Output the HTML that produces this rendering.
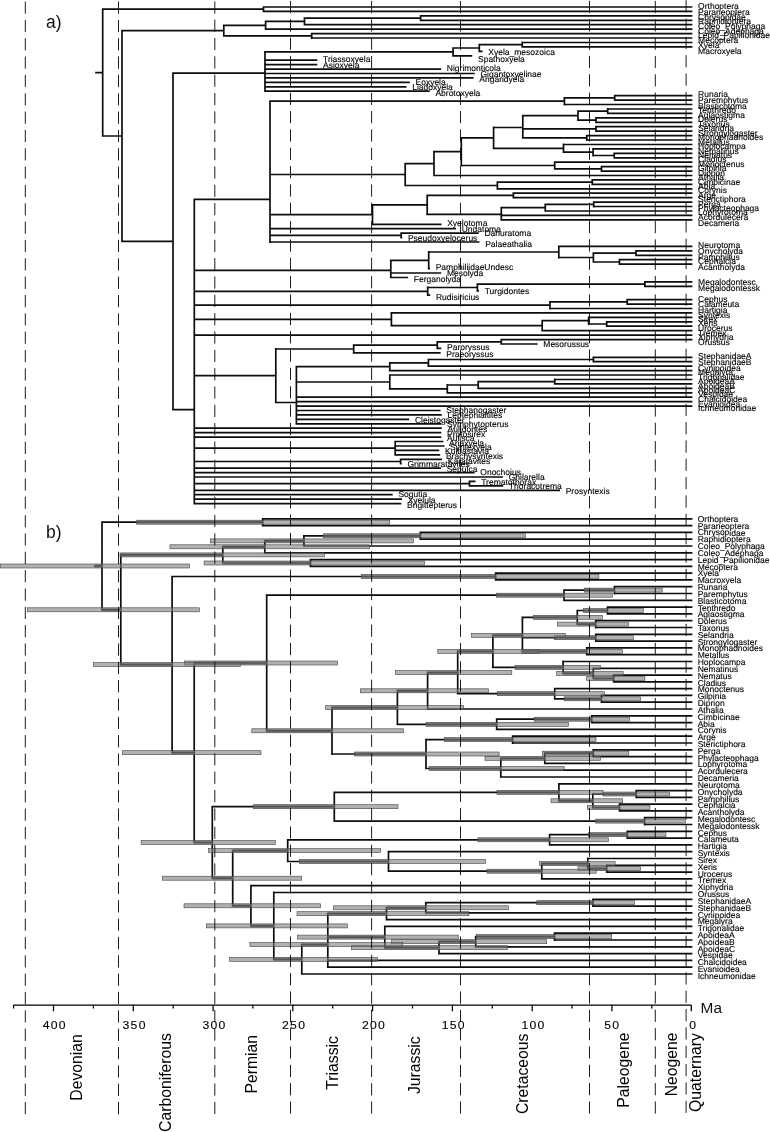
<!DOCTYPE html>
<html><head><meta charset="utf-8"><title>Phylogeny</title>
<style>html,body{margin:0;padding:0;background:#fff}body{width:770px;height:1132px;position:relative;overflow:hidden;font-family:"Liberation Sans",sans-serif}</style></head>
<body>
<svg width="770" height="1132" viewBox="0 0 770 1132" style="position:absolute;left:0;top:0;filter:grayscale(1)">
<rect width="770" height="1132" fill="#fff"/>
<path d="M101.9 9.2H263.5M262.6 7.0H692.4M262.6 11.4H692.4M101.9 136.0H122.0M121.2 30.6H223.8M223.0 25.3H265.6M264.8 21.4H304.5M303.6 18.1H420.6M419.8 15.9H692.4M419.8 20.3H692.4M303.6 24.7H692.4M264.8 29.2H692.4M223.0 35.8H311.7M310.8 33.6H692.4M310.8 38.0H692.4M121.2 241.4H173.0M172.2 73.1H265.0M264.1 51.9H453.1M452.2 48.0H479.3M478.4 44.7H522.2M521.4 42.5H692.4M521.4 46.9H692.4M478.4 51.3H482.6M452.2 55.8H472.3M264.1 60.2H317.3M264.1 64.6H317.3M264.1 69.1H441.1M264.1 73.5H474.8M264.1 77.9H473.6M264.1 82.4H409.8M264.1 86.8H406.5M264.1 91.2H429.7M172.2 409.7H194.3M193.5 199.4H270.0M269.1 101.2H564.4M563.5 97.9H614.7M613.9 95.7H692.4M613.9 100.1H692.4M563.5 104.5H692.4M269.1 174.5H405.2M404.3 163.6H434.0M433.1 151.7H461.3M460.4 137.9H493.6M492.8 127.5H522.8M521.9 115.6H578.0M577.1 111.2H607.7M606.9 109.0H692.4M606.9 113.4H692.4M577.1 120.1H596.0M595.1 117.9H692.4M595.1 122.3H692.4M521.9 128.9H596.0M595.1 126.7H692.4M595.1 131.2H692.4M521.9 137.8H586.8M585.9 135.6H692.4M585.9 140.0H692.4M492.8 148.3H563.5M562.6 144.5H692.4M562.6 152.2H593.1M592.2 148.9H692.4M592.2 155.5H614.2M613.4 153.3H692.4M613.4 157.8H692.4M460.4 165.5H554.7M553.9 162.2H692.4M553.9 168.8H601.5M600.6 166.6H692.4M600.6 171.1H692.4M433.1 175.5H692.4M404.3 185.5H497.4M496.5 182.1H592.3M591.4 179.9H692.4M591.4 184.4H692.4M496.5 188.8H692.4M269.1 214.6H372.5M371.6 204.9H427.2M426.3 195.4H513.4M512.5 193.2H692.4M512.5 197.7H692.4M426.3 214.3H501.3M500.4 207.6H545.3M544.4 204.3H593.7M592.9 202.1H692.4M592.9 206.5H692.4M544.4 211.0H692.4M500.4 215.4H692.4M500.4 219.8H692.4M371.6 224.3H441.5M269.1 228.7H456.0M269.1 235.4H401.2M400.3 233.1H478.7M400.3 237.6H402.2M269.1 242.0H479.5M193.5 270.3H390.8M389.9 260.3H428.7M427.8 252.0H558.8M557.9 246.4H692.4M557.9 257.5H593.4M592.5 253.1H636.0M635.1 250.9H692.4M635.1 255.3H692.4M592.5 262.0H619.5M618.6 259.7H692.4M618.6 264.2H692.4M427.8 268.6H430.0M389.9 273.0H441.2M389.9 277.5H408.1M193.5 291.3H427.7M426.8 287.5H477.4M476.5 284.1H644.9M644.0 281.9H692.4M644.0 286.3H692.4M476.5 290.8H479.0M426.8 295.2H430.2M193.5 305.2H550.0M549.1 301.9H627.2M626.4 299.6H692.4M626.4 304.1H692.4M549.1 308.5H692.4M193.5 319.3H391.4M390.5 312.9H692.4M390.5 325.7H542.2M541.4 320.7H588.6M587.8 317.4H692.4M587.8 324.0H606.7M605.9 321.8H692.4M605.9 326.2H692.4M541.4 330.7H692.4M193.5 335.1H692.4M193.5 375.7H275.8M274.9 349.0H353.7M352.8 345.1H437.3M436.4 341.8H501.3M500.4 339.6H692.4M500.4 344.0H537.6M436.4 348.4H441.3M352.8 352.9H440.6M274.9 402.5H296.4M295.5 366.7H389.8M388.9 362.8H428.4M427.5 359.5H593.4M592.5 357.3H692.4M592.5 361.7H692.4M427.5 366.2H692.4M388.9 370.6H692.4M295.5 382.0H389.8M388.9 375.0H692.4M388.9 388.9H447.3M446.4 385.0H478.2M477.3 381.7H554.8M553.9 379.5H692.4M553.9 383.9H692.4M477.3 388.3H692.4M446.4 392.8H692.4M295.5 397.2H692.4M295.5 401.6H692.4M295.5 406.1H692.4M295.5 410.5H440.6M295.5 414.9H441.8M295.5 419.4H409.2M295.5 423.8H441.4M193.5 428.2H441.8M193.5 432.7H441.3M193.5 437.1H441.3M193.5 448.2H395.2M394.3 441.5H443.4M394.3 446.0H444.4M394.3 450.4H439.3M394.3 454.8H440.2M193.5 461.5H400.6M399.8 459.3H442.1M399.8 463.7H401.8M193.5 468.1H441.0M193.5 472.6H474.6M193.5 477.0H503.0M193.5 483.7H469.5M468.6 481.4H475.5M468.6 485.9H503.2M193.5 490.3H560.0M193.5 494.7H392.7M193.5 499.2H402.0M193.5 503.6H401.3M95.2 72.6H102.7M101.2 522.2H262.7M261.8 518.8H692.4M261.8 525.6H692.4M101.2 609.8H120.8M120.0 554.9H222.8M222.0 546.8H264.8M263.9 540.9H303.9M303.0 535.8H420.4M419.5 532.4H692.4M419.5 539.2H692.4M303.0 546.0H692.4M263.9 552.8H692.4M222.0 563.0H310.5M309.6 559.6H692.4M309.6 566.4H692.4M120.0 664.6H172.1M171.2 576.5H495.6M494.8 573.2H692.4M494.8 579.9H692.4M171.2 752.7H194.2M193.3 663.0H266.7M265.8 595.2H564.0M563.1 590.1H614.5M613.6 586.7H692.4M613.6 593.5H692.4M563.1 600.3H692.4M265.8 730.8H332.0M331.1 707.6H397.4M396.5 690.8H427.6M426.8 672.6H457.7M456.8 651.4H492.9M492.0 635.4H522.4M521.5 617.3H577.3M576.4 610.5H607.5M606.6 607.1H692.4M606.6 613.9H692.4M576.4 624.1H595.7M594.9 620.7H692.4M594.9 627.5H692.4M521.5 637.7H595.8M594.9 634.3H692.4M594.9 641.1H692.4M521.5 651.3H586.7M585.9 647.9H692.4M585.9 654.7H692.4M492.0 667.4H563.1M562.2 661.5H692.4M562.2 673.4H593.3M592.4 668.3H692.4M592.4 678.5H613.6M612.8 675.1H692.4M612.8 681.9H692.4M456.8 693.7H554.7M553.9 688.6H692.4M553.9 698.8H601.5M600.6 695.4H692.4M600.6 702.2H692.4M426.8 709.0H692.4M396.5 724.3H496.7M495.8 719.2H591.7M590.9 715.8H692.4M590.9 722.6H692.4M495.8 729.4H692.4M331.1 754.0H426.0M425.1 739.6H512.6M511.8 736.2H692.4M511.8 743.0H692.4M425.1 768.5H500.8M499.9 758.3H544.8M543.9 753.2H593.3M592.4 749.8H692.4M592.4 756.6H692.4M543.9 763.4H692.4M499.9 770.2H692.4M499.9 777.0H692.4M193.3 842.5H212.3M211.5 806.7H334.3M333.4 792.3H558.9M558.0 783.8H692.4M558.0 800.8H592.8M591.9 794.0H636.2M635.4 790.6H692.4M635.4 797.4H692.4M591.9 807.5H619.5M618.6 804.1H692.4M618.6 810.9H692.4M333.4 821.1H644.6M643.8 817.7H692.4M643.8 824.5H692.4M211.5 878.2H232.7M231.8 850.6H287.7M286.8 839.8H549.6M548.8 834.7H627.3M626.4 831.3H692.4M626.4 838.1H692.4M548.8 844.9H692.4M286.8 861.5H388.5M387.6 851.7H692.4M387.6 871.2H541.8M540.9 863.6H587.8M586.9 858.5H692.4M586.9 868.7H606.7M605.9 865.3H692.4M605.9 872.1H692.4M540.9 878.9H692.4M231.8 905.8H250.9M250.1 885.7H692.4M250.1 925.9H273.8M272.9 892.5H692.4M272.9 959.3H301.8M300.9 944.6H327.8M326.9 913.7H386.5M385.6 907.8H425.8M424.9 902.7H593.0M592.1 899.3H692.4M592.1 906.1H692.4M424.9 912.9H692.4M385.6 919.6H692.4M326.9 937.1H384.8M383.9 926.4H692.4M383.9 947.7H439.0M438.1 941.7H475.7M474.8 936.6H554.5M553.6 933.2H692.4M553.6 940.0H692.4M474.8 946.8H692.4M438.1 953.6H692.4M326.9 960.4H692.4M326.9 967.2H692.4M300.9 974.0H692.4M94.0 566.0H102.0M102.7 8.4V136.8M263.5 6.2V12.3M122.0 29.7V242.2M223.8 24.4V36.7M265.6 20.6V30.0M304.5 17.2V25.6M420.6 15.0V21.2M311.7 32.8V38.9M173.0 72.2V410.5M265.0 51.0V92.1M453.1 47.2V56.6M479.3 43.8V52.2M522.2 41.6V47.8M194.3 198.5V504.5M270.0 100.4V242.9M564.4 97.0V105.4M614.7 94.8V101.0M405.2 162.7V186.3M434.0 150.9V176.3M461.3 137.0V166.4M493.6 126.6V149.2M522.8 114.8V138.7M578.0 110.3V120.9M607.7 108.1V114.3M596.0 117.0V123.1M596.0 125.9V132.0M586.8 134.7V140.9M563.5 143.6V153.1M593.1 148.0V156.4M614.2 152.5V158.6M554.7 161.3V169.7M601.5 165.8V171.9M497.4 181.3V189.6M592.3 179.1V185.2M372.5 204.0V225.1M427.2 194.6V215.1M513.4 192.4V198.5M501.3 206.8V220.7M545.3 203.5V211.8M593.7 201.2V207.4M401.2 232.3V238.4M390.8 259.4V278.3M428.7 251.1V269.5M558.8 245.6V258.4M593.4 252.2V262.8M636.0 250.0V256.2M619.5 258.9V265.0M427.7 286.6V296.1M477.4 283.3V291.6M644.9 281.1V287.2M550.0 301.0V309.4M627.2 298.8V304.9M391.4 312.1V326.5M542.2 319.9V331.5M588.6 316.5V324.9M606.7 321.0V327.1M275.8 348.1V403.3M353.7 344.2V353.7M437.3 340.9V349.3M501.3 338.7V344.8M296.4 365.9V424.6M389.8 362.0V371.4M428.4 358.7V367.0M593.4 356.4V362.6M389.8 374.2V389.7M447.3 384.1V393.6M478.2 380.8V389.2M554.8 378.6V384.7M395.2 440.7V455.7M400.6 458.4V464.6M469.5 480.6V486.7M102.0 521.3V610.6M262.7 517.9V526.4M120.8 554.0V665.5M222.8 546.0V563.8M264.8 540.0V553.6M303.9 534.9V546.8M420.4 531.5V540.0M310.5 558.7V567.2M172.1 575.7V753.6M495.6 572.3V580.8M194.2 662.2V843.3M266.7 594.4V731.7M564.0 589.3V601.2M614.5 585.9V594.4M332.0 706.7V754.9M397.4 690.0V725.2M427.6 671.7V709.9M457.7 650.6V694.6M492.9 634.6V668.3M522.4 616.5V652.1M577.3 609.7V625.0M607.5 606.3V614.8M595.7 619.9V628.4M595.8 633.4V641.9M586.7 647.0V655.5M563.1 660.6V674.2M593.3 667.4V679.3M613.6 674.2V682.7M554.7 687.8V699.7M601.5 694.6V703.1M496.7 718.4V730.3M591.7 715.0V723.5M426.0 738.8V769.3M512.6 735.4V743.9M500.8 757.4V777.8M544.8 752.3V764.2M593.3 748.9V757.4M212.3 805.8V879.1M334.3 791.4V822.0M558.9 782.9V801.6M592.8 793.1V808.4M636.2 789.7V798.2M619.5 803.3V811.8M644.6 816.9V825.4M232.7 849.8V906.6M287.7 839.0V862.3M549.6 833.9V845.8M627.3 830.5V839.0M388.5 850.9V872.1M541.8 862.7V879.7M587.8 857.6V869.5M606.7 864.4V872.9M250.9 884.8V926.7M273.8 891.6V960.1M301.8 943.7V974.8M327.8 912.9V968.1M386.5 906.9V920.5M425.8 901.8V913.7M593.0 898.4V906.9M384.8 925.6V948.5M439.0 940.9V954.5M475.7 935.8V947.7M554.5 932.4V940.9" stroke="#0d0d0d" stroke-width="1.7" fill="none"/>
<g fill="rgba(125,125,125,0.6)" stroke="#444" stroke-width="0.6"><rect x="136.7" y="520.2" width="253.1" height="4.0"/><rect x="323.4" y="533.8" width="201.9" height="4.0"/><rect x="210.4" y="538.9" width="203.1" height="4.0"/><rect x="170.0" y="544.8" width="199.5" height="4.0"/><rect x="204.1" y="561.0" width="220.4" height="4.0"/><rect x="120.0" y="552.9" width="204.6" height="4.0"/><rect x="361.6" y="574.5" width="237.3" height="4.0"/><rect x="584.2" y="588.1" width="78.0" height="4.0"/><rect x="496.4" y="593.2" width="116.0" height="4.0"/><rect x="583.6" y="608.5" width="59.7" height="4.0"/><rect x="557.6" y="622.1" width="70.9" height="4.0"/><rect x="533.3" y="615.3" width="69.1" height="4.0"/><rect x="554.5" y="635.7" width="78.8" height="4.0"/><rect x="521.8" y="649.3" width="100.6" height="4.0"/><rect x="471.5" y="633.4" width="93.8" height="4.0"/><rect x="586.7" y="676.5" width="58.2" height="4.0"/><rect x="556.6" y="671.4" width="66.5" height="4.0"/><rect x="515.1" y="665.4" width="85.3" height="4.0"/><rect x="437.8" y="649.4" width="101.3" height="4.0"/><rect x="564.2" y="696.8" width="76.3" height="4.0"/><rect x="497.2" y="691.7" width="107.3" height="4.0"/><rect x="395.5" y="670.6" width="116.3" height="4.0"/><rect x="360.4" y="688.8" width="128.0" height="4.0"/><rect x="534.1" y="717.2" width="95.4" height="4.0"/><rect x="426.1" y="722.3" width="142.2" height="4.0"/><rect x="325.7" y="705.6" width="137.8" height="4.0"/><rect x="444.3" y="737.6" width="151.7" height="4.0"/><rect x="542.3" y="751.2" width="86.5" height="4.0"/><rect x="485.0" y="756.3" width="115.6" height="4.0"/><rect x="429.1" y="766.5" width="135.0" height="4.0"/><rect x="354.3" y="752.0" width="144.8" height="4.0"/><rect x="251.8" y="728.8" width="151.6" height="4.0"/><rect x="184.4" y="661.0" width="153.2" height="4.0"/><rect x="602.9" y="792.0" width="66.7" height="4.0"/><rect x="587.4" y="805.5" width="62.5" height="4.0"/><rect x="551.0" y="798.8" width="71.7" height="4.0"/><rect x="497.0" y="790.3" width="106.0" height="4.0"/><rect x="595.7" y="819.1" width="89.6" height="4.0"/><rect x="253.5" y="804.7" width="144.5" height="4.0"/><rect x="588.5" y="832.7" width="77.4" height="4.0"/><rect x="477.9" y="837.8" width="130.4" height="4.0"/><rect x="578.0" y="866.7" width="62.6" height="4.0"/><rect x="539.6" y="861.6" width="75.5" height="4.0"/><rect x="487.0" y="869.2" width="109.2" height="4.0"/><rect x="299.5" y="859.5" width="186.1" height="4.0"/><rect x="208.5" y="848.6" width="172.1" height="4.0"/><rect x="536.8" y="900.7" width="97.7" height="4.0"/><rect x="333.5" y="905.8" width="174.8" height="4.0"/><rect x="297.0" y="911.7" width="171.9" height="4.0"/><rect x="476.5" y="934.6" width="135.2" height="4.0"/><rect x="391.6" y="939.7" width="155.1" height="4.0"/><rect x="351.5" y="945.7" width="155.8" height="4.0"/><rect x="297.5" y="935.1" width="160.9" height="4.0"/><rect x="249.9" y="942.6" width="152.9" height="4.0"/><rect x="229.7" y="957.3" width="147.6" height="4.0"/><rect x="206.5" y="923.9" width="140.9" height="4.0"/><rect x="184.0" y="903.8" width="136.5" height="4.0"/><rect x="162.3" y="876.2" width="139.4" height="4.0"/><rect x="141.1" y="840.5" width="134.3" height="4.0"/><rect x="122.5" y="750.7" width="138.5" height="4.0"/><rect x="93.5" y="662.6" width="147.0" height="4.0"/><rect x="27.4" y="607.8" width="172.0" height="4.0"/><rect x="0.5" y="564.0" width="189.0" height="4.0"/></g>
<g fill="#5a5a5a" fill-opacity="0.5"><rect x="136.7" y="520.3" width="126.0" height="3.8"/><rect x="323.4" y="533.9" width="97.0" height="3.8"/><rect x="264.8" y="539.0" width="39.1" height="3.8"/><rect x="222.8" y="544.9" width="42.0" height="3.8"/><rect x="222.8" y="561.1" width="87.7" height="3.8"/><rect x="120.8" y="553.0" width="102.0" height="3.8"/><rect x="361.6" y="574.6" width="134.0" height="3.8"/><rect x="584.2" y="588.2" width="30.3" height="3.8"/><rect x="496.4" y="593.3" width="67.6" height="3.8"/><rect x="583.6" y="608.6" width="23.9" height="3.8"/><rect x="577.3" y="622.2" width="18.4" height="3.8"/><rect x="533.3" y="615.4" width="44.0" height="3.8"/><rect x="554.5" y="635.8" width="41.3" height="3.8"/><rect x="522.4" y="649.4" width="64.3" height="3.8"/><rect x="492.9" y="633.5" width="29.5" height="3.8"/><rect x="593.3" y="676.6" width="20.3" height="3.8"/><rect x="563.1" y="671.5" width="30.2" height="3.8"/><rect x="515.1" y="665.5" width="48.0" height="3.8"/><rect x="457.7" y="649.5" width="35.2" height="3.8"/><rect x="564.2" y="696.9" width="37.3" height="3.8"/><rect x="497.2" y="691.8" width="57.5" height="3.8"/><rect x="427.6" y="670.7" width="30.1" height="3.8"/><rect x="397.4" y="688.9" width="30.2" height="3.8"/><rect x="534.1" y="717.3" width="57.6" height="3.8"/><rect x="426.1" y="722.4" width="70.6" height="3.8"/><rect x="332.0" y="705.7" width="65.4" height="3.8"/><rect x="444.3" y="737.7" width="68.3" height="3.8"/><rect x="544.8" y="751.3" width="48.5" height="3.8"/><rect x="500.8" y="756.4" width="44.0" height="3.8"/><rect x="429.1" y="766.6" width="71.7" height="3.8"/><rect x="354.3" y="752.1" width="71.7" height="3.8"/><rect x="266.7" y="728.9" width="65.3" height="3.8"/><rect x="194.2" y="661.1" width="72.5" height="3.8"/><rect x="602.9" y="792.1" width="33.3" height="3.8"/><rect x="592.8" y="805.6" width="26.7" height="3.8"/><rect x="558.9" y="798.9" width="33.9" height="3.8"/><rect x="497.0" y="790.4" width="61.9" height="3.8"/><rect x="595.7" y="819.2" width="48.9" height="3.8"/><rect x="253.5" y="804.8" width="80.8" height="3.8"/><rect x="588.5" y="832.8" width="38.8" height="3.8"/><rect x="477.9" y="837.9" width="71.7" height="3.8"/><rect x="587.8" y="866.8" width="18.9" height="3.8"/><rect x="541.8" y="861.7" width="46.0" height="3.8"/><rect x="487.0" y="869.3" width="54.8" height="3.8"/><rect x="299.5" y="859.6" width="89.0" height="3.8"/><rect x="232.7" y="848.7" width="55.0" height="3.8"/><rect x="536.8" y="900.8" width="56.2" height="3.8"/><rect x="386.5" y="905.9" width="39.3" height="3.8"/><rect x="327.8" y="911.8" width="58.7" height="3.8"/><rect x="476.5" y="934.7" width="78.0" height="3.8"/><rect x="439.0" y="939.8" width="36.7" height="3.8"/><rect x="384.8" y="945.8" width="54.2" height="3.8"/><rect x="327.8" y="935.2" width="57.0" height="3.8"/><rect x="301.8" y="942.7" width="26.0" height="3.8"/><rect x="273.8" y="957.4" width="28.0" height="3.8"/><rect x="250.9" y="924.0" width="22.9" height="3.8"/><rect x="232.7" y="903.9" width="18.2" height="3.8"/><rect x="212.3" y="876.3" width="20.4" height="3.8"/><rect x="194.2" y="840.6" width="18.1" height="3.8"/><rect x="172.1" y="750.8" width="22.1" height="3.8"/><rect x="120.8" y="662.7" width="51.3" height="3.8"/><rect x="102.0" y="607.9" width="18.8" height="3.8"/><rect x="94.8" y="564.1" width="7.2" height="3.8"/></g>
<g stroke="#111" stroke-width="0.95" stroke-dasharray="12.2 6.142" fill="none"><line x1="25.3" y1="1.5" x2="25.3" y2="1114.2" /><line x1="118.5" y1="1.5" x2="118.5" y2="1114.2" /><line x1="214.8" y1="1.3" x2="214.8" y2="1114.0" /><line x1="290.5" y1="1.0" x2="290.5" y2="1113.7" /><line x1="371.6" y1="1.0" x2="371.6" y2="1113.7" /><line x1="460.5" y1="1.0" x2="460.5" y2="1113.7" /><line x1="589.5" y1="0.9" x2="589.5" y2="1113.6" /><line x1="655.3" y1="0.9" x2="655.3" y2="1113.6" /><line x1="686.1" y1="0.2" x2="686.1" y2="1112.9" /></g>
<g text-rendering="geometricPrecision" font-family="Liberation Sans, sans-serif" font-size="8.5" fill="#000" stroke="#000" stroke-width="0.12"><text transform="translate(698.10 8.85) rotate(0.02)">Orthoptera</text><text transform="translate(698.10 15.05) rotate(0.02)">Paraneoptera</text><text transform="translate(698.10 19.95) rotate(0.02)">Chrysopidae</text><text transform="translate(698.10 24.45) rotate(0.02)">Raphidioptera</text><text transform="translate(698.10 29.05) rotate(0.02)">Coleo_Polyphaga</text><text transform="translate(698.10 33.85) rotate(0.02)">Coleo_Adephaga</text><text transform="translate(698.10 38.35) rotate(0.02)">Lepid_Papilionidae</text><text transform="translate(698.10 42.95) rotate(0.02)">Mecoptera</text><text transform="translate(698.10 48.05) rotate(0.02)">Xyela</text><text transform="translate(698.10 54.35) rotate(0.02)">Macroxyela</text><text transform="translate(488.30 55.05) rotate(0.02)">Xyela_mesozoica</text><text transform="translate(478.00 61.75) rotate(0.02)">Spathoxyela</text><text transform="translate(323.00 61.75) rotate(0.02)">Triassoxyela</text><text transform="translate(323.00 67.95) rotate(0.02)">Asioxyela</text><text transform="translate(446.80 71.25) rotate(0.02)">Nigrimonticola</text><text transform="translate(480.50 77.15) rotate(0.02)">Gigantoxyelinae</text><text transform="translate(479.30 82.45) rotate(0.02)">Angaridyela</text><text transform="translate(415.50 84.65) rotate(0.02)">Eoxyela</text><text transform="translate(412.20 90.45) rotate(0.02)">Liadoxyela</text><text transform="translate(435.40 95.85) rotate(0.02)">Abrotoxyela</text><text transform="translate(698.10 97.45) rotate(0.02)">Runaria</text><text transform="translate(698.10 103.05) rotate(0.02)">Paremphytus</text><text transform="translate(698.10 108.55) rotate(0.02)">Blasticotoma</text><text transform="translate(698.10 113.45) rotate(0.02)">Tenthredo</text><text transform="translate(698.10 117.85) rotate(0.02)">Aglaostigma</text><text transform="translate(698.10 122.15) rotate(0.02)">Dolerus</text><text transform="translate(698.10 126.75) rotate(0.02)">Taxonus</text><text transform="translate(698.10 131.25) rotate(0.02)">Selandria</text><text transform="translate(698.10 135.85) rotate(0.02)">Strongylogaster</text><text transform="translate(698.10 140.35) rotate(0.02)">Monophadnoides</text><text transform="translate(698.10 144.65) rotate(0.02)">Metallus</text><text transform="translate(698.10 149.05) rotate(0.02)">Hoplocampa</text><text transform="translate(698.10 153.65) rotate(0.02)">Nematinus</text><text transform="translate(698.10 157.95) rotate(0.02)">Nematus</text><text transform="translate(698.10 162.45) rotate(0.02)">Cladius</text><text transform="translate(698.10 166.65) rotate(0.02)">Monoctenus</text><text transform="translate(698.10 171.25) rotate(0.02)">Gilpinia</text><text transform="translate(698.10 175.75) rotate(0.02)">Diprion</text><text transform="translate(698.10 180.35) rotate(0.02)">Athalia</text><text transform="translate(698.10 184.65) rotate(0.02)">Cimbicinae</text><text transform="translate(698.10 188.75) rotate(0.02)">Abia</text><text transform="translate(698.10 193.35) rotate(0.02)">Corynis</text><text transform="translate(698.10 197.85) rotate(0.02)">Arge</text><text transform="translate(698.10 202.45) rotate(0.02)">Sterictiphora</text><text transform="translate(698.10 206.55) rotate(0.02)">Perga</text><text transform="translate(698.10 211.05) rotate(0.02)">Phylacteophaga</text><text transform="translate(698.10 215.35) rotate(0.02)">Lophyrotoma</text><text transform="translate(698.10 220.05) rotate(0.02)">Acordulecera</text><text transform="translate(698.10 226.15) rotate(0.02)">Decameria</text><text transform="translate(447.20 226.35) rotate(0.02)">Xyelotoma</text><text transform="translate(461.70 231.75) rotate(0.02)">Undatoma</text><text transform="translate(484.40 236.45) rotate(0.02)">Dahuratoma</text><text transform="translate(407.90 240.65) rotate(0.02)">Pseudoxyelocerus</text><text transform="translate(485.20 246.85) rotate(0.02)">Palaeathalia</text><text transform="translate(698.10 248.25) rotate(0.02)">Neurotoma</text><text transform="translate(698.10 254.05) rotate(0.02)">Onycholyda</text><text transform="translate(698.10 259.95) rotate(0.02)">Pamphilius</text><text transform="translate(698.10 264.45) rotate(0.02)">Cephalcia</text><text transform="translate(698.10 269.95) rotate(0.02)">Acantholyda</text><text transform="translate(435.70 270.25) rotate(0.02)">PamphiliidaeUndesc</text><text transform="translate(446.90 276.05) rotate(0.02)">Mesolyda</text><text transform="translate(413.80 281.95) rotate(0.02)">Ferganolyda</text><text transform="translate(698.10 284.85) rotate(0.02)">Megalodontesc</text><text transform="translate(698.10 290.95) rotate(0.02)">Megalodontessk</text><text transform="translate(484.70 294.15) rotate(0.02)">Turgidontes</text><text transform="translate(435.90 299.85) rotate(0.02)">Rudisiricius</text><text transform="translate(698.10 301.75) rotate(0.02)">Cephus</text><text transform="translate(698.10 307.35) rotate(0.02)">Calameuta</text><text transform="translate(698.10 313.05) rotate(0.02)">Hartigia</text><text transform="translate(698.10 317.65) rotate(0.02)">Syntexis</text><text transform="translate(698.10 321.95) rotate(0.02)">Sirex</text><text transform="translate(698.10 326.05) rotate(0.02)">Xeris</text><text transform="translate(698.10 330.75) rotate(0.02)">Urocerus</text><text transform="translate(698.10 335.55) rotate(0.02)">Tremex</text><text transform="translate(698.10 339.85) rotate(0.02)">Xiphydria</text><text transform="translate(698.10 345.25) rotate(0.02)">Orussus</text><text transform="translate(543.30 347.25) rotate(0.02)">Mesorussus</text><text transform="translate(447.00 350.05) rotate(0.02)">Paroryssus</text><text transform="translate(446.30 357.15) rotate(0.02)">Praeoryssus</text><text transform="translate(698.10 359.25) rotate(0.02)">StephanidaeA</text><text transform="translate(698.10 365.15) rotate(0.02)">StephanidaeB</text><text transform="translate(698.10 370.75) rotate(0.02)">Cynipoidea</text><text transform="translate(698.10 375.25) rotate(0.02)">Megalyra</text><text transform="translate(698.10 379.85) rotate(0.02)">Trigonalidae</text><text transform="translate(698.10 384.35) rotate(0.02)">ApoideaA</text><text transform="translate(698.10 388.55) rotate(0.02)">ApoideaB</text><text transform="translate(698.10 393.05) rotate(0.02)">ApoideaC</text><text transform="translate(698.10 397.35) rotate(0.02)">Vespidae</text><text transform="translate(698.10 402.15) rotate(0.02)">Chalcidoidea</text><text transform="translate(698.10 406.65) rotate(0.02)">Evanioidea</text><text transform="translate(698.10 411.45) rotate(0.02)">Ichneumonidae</text><text transform="translate(446.30 412.75) rotate(0.02)">Stephanogaster</text><text transform="translate(447.50 418.15) rotate(0.02)">Leptephialtites</text><text transform="translate(414.90 422.55) rotate(0.02)">Cleistogaster</text><text transform="translate(447.10 427.25) rotate(0.02)">Symphytopterus</text><text transform="translate(447.50 432.35) rotate(0.02)">Aulidontes</text><text transform="translate(447.00 436.55) rotate(0.02)">Protosirex</text><text transform="translate(447.00 440.95) rotate(0.02)">Aulisca</text><text transform="translate(449.10 445.95) rotate(0.02)">Anaxyela</text><text transform="translate(450.10 449.85) rotate(0.02)">Syntexyela</text><text transform="translate(445.00 454.45) rotate(0.02)">Kulbastavia</text><text transform="translate(445.90 459.15) rotate(0.02)">Brachysyntexis</text><text transform="translate(447.80 463.85) rotate(0.02)">Karatavites</text><text transform="translate(407.50 466.95) rotate(0.02)">Grimmaratavites</text><text transform="translate(446.70 472.35) rotate(0.02)">Sepulca</text><text transform="translate(480.30 474.55) rotate(0.02)">Onochoius</text><text transform="translate(508.70 479.85) rotate(0.02)">Ghilarella</text><text transform="translate(481.20 485.05) rotate(0.02)">Trematothorax</text><text transform="translate(508.90 489.25) rotate(0.02)">Thoracotrema</text><text transform="translate(565.70 493.75) rotate(0.02)">Prosyntexis</text><text transform="translate(398.40 497.35) rotate(0.02)">Sogutia</text><text transform="translate(407.70 502.55) rotate(0.02)">Xyelula</text><text transform="translate(407.00 507.95) rotate(0.02)">Brigittepterus</text><text transform="translate(697.70 521.85) rotate(0.02)">Orthoptera</text><text transform="translate(697.70 528.67) rotate(0.02)">Paraneoptera</text><text transform="translate(697.70 535.49) rotate(0.02)">Chrysopidae</text><text transform="translate(697.70 542.32) rotate(0.02)">Raphidioptera</text><text transform="translate(697.70 549.14) rotate(0.02)">Coleo_Polyphaga</text><text transform="translate(697.70 555.96) rotate(0.02)">Coleo_Adephaga</text><text transform="translate(697.70 562.78) rotate(0.02)">Lepid_Papilionidae</text><text transform="translate(697.70 569.60) rotate(0.02)">Mecoptera</text><text transform="translate(697.70 576.43) rotate(0.02)">Xyela</text><text transform="translate(697.70 583.25) rotate(0.02)">Macroxyela</text><text transform="translate(697.70 590.07) rotate(0.02)">Runaria</text><text transform="translate(697.70 596.89) rotate(0.02)">Paremphytus</text><text transform="translate(697.70 603.71) rotate(0.02)">Blasticotoma</text><text transform="translate(697.70 610.54) rotate(0.02)">Tenthredo</text><text transform="translate(697.70 617.36) rotate(0.02)">Aglaostigma</text><text transform="translate(697.70 624.18) rotate(0.02)">Dolerus</text><text transform="translate(697.70 631.00) rotate(0.02)">Taxonus</text><text transform="translate(697.70 637.82) rotate(0.02)">Selandria</text><text transform="translate(697.70 644.65) rotate(0.02)">Strongylogaster</text><text transform="translate(697.70 651.47) rotate(0.02)">Monophadnoides</text><text transform="translate(697.70 658.29) rotate(0.02)">Metallus</text><text transform="translate(697.70 665.11) rotate(0.02)">Hoplocampa</text><text transform="translate(697.70 671.93) rotate(0.02)">Nematinus</text><text transform="translate(697.70 678.76) rotate(0.02)">Nematus</text><text transform="translate(697.70 685.58) rotate(0.02)">Cladius</text><text transform="translate(697.70 692.40) rotate(0.02)">Monoctenus</text><text transform="translate(697.70 699.22) rotate(0.02)">Gilpinia</text><text transform="translate(697.70 706.04) rotate(0.02)">Diprion</text><text transform="translate(697.70 712.87) rotate(0.02)">Athalia</text><text transform="translate(697.70 719.69) rotate(0.02)">Cimbicinae</text><text transform="translate(697.70 726.51) rotate(0.02)">Abia</text><text transform="translate(697.70 733.33) rotate(0.02)">Corynis</text><text transform="translate(697.70 740.15) rotate(0.02)">Arge</text><text transform="translate(697.70 746.98) rotate(0.02)">Sterictiphora</text><text transform="translate(697.70 753.80) rotate(0.02)">Perga</text><text transform="translate(697.70 760.62) rotate(0.02)">Phylacteophaga</text><text transform="translate(697.70 767.44) rotate(0.02)">Lophyrotoma</text><text transform="translate(697.70 774.26) rotate(0.02)">Acordulecera</text><text transform="translate(697.70 781.09) rotate(0.02)">Decameria</text><text transform="translate(697.70 787.91) rotate(0.02)">Neurotoma</text><text transform="translate(697.70 794.73) rotate(0.02)">Onycholyda</text><text transform="translate(697.70 801.55) rotate(0.02)">Pamphilius</text><text transform="translate(697.70 808.37) rotate(0.02)">Cephalcia</text><text transform="translate(697.70 815.20) rotate(0.02)">Acantholyda</text><text transform="translate(697.70 822.02) rotate(0.02)">Megalodontesc</text><text transform="translate(697.70 828.84) rotate(0.02)">Megalodontessk</text><text transform="translate(697.70 835.66) rotate(0.02)">Cephus</text><text transform="translate(697.70 842.48) rotate(0.02)">Calameuta</text><text transform="translate(697.70 849.31) rotate(0.02)">Hartigia</text><text transform="translate(697.70 856.13) rotate(0.02)">Syntexis</text><text transform="translate(697.70 862.95) rotate(0.02)">Sirex</text><text transform="translate(697.70 869.77) rotate(0.02)">Xeris</text><text transform="translate(697.70 876.59) rotate(0.02)">Urocerus</text><text transform="translate(697.70 883.42) rotate(0.02)">Tremex</text><text transform="translate(697.70 890.24) rotate(0.02)">Xiphydria</text><text transform="translate(697.70 897.06) rotate(0.02)">Orussus</text><text transform="translate(697.70 903.88) rotate(0.02)">StephanidaeA</text><text transform="translate(697.70 910.70) rotate(0.02)">StephanidaeB</text><text transform="translate(697.70 917.53) rotate(0.02)">Cynipoidea</text><text transform="translate(697.70 924.35) rotate(0.02)">Megalyra</text><text transform="translate(697.70 931.17) rotate(0.02)">Trigonalidae</text><text transform="translate(697.70 937.99) rotate(0.02)">ApoideaA</text><text transform="translate(697.70 944.81) rotate(0.02)">ApoideaB</text><text transform="translate(697.70 951.64) rotate(0.02)">ApoideaC</text><text transform="translate(697.70 958.46) rotate(0.02)">Vespidae</text><text transform="translate(697.70 965.28) rotate(0.02)">Chalcidoidea</text><text transform="translate(697.70 972.10) rotate(0.02)">Evanioidea</text><text transform="translate(697.70 978.92) rotate(0.02)">Ichneumonidae</text></g>
<g font-family="Liberation Sans, sans-serif" font-size="17.5" fill="#111"><text x="46" y="27.6">a)</text><text x="46" y="538">b)</text></g>
<path d="M13.6 1005.1H691.3M691.3 1005.1V1011.3M651.8 1005.1V1008.4M611.9 1005.1V1011.3M572.0 1005.1V1008.4M532.2 1005.1V1011.3M492.3 1005.1V1008.4M452.4 1005.1V1011.3M412.5 1005.1V1008.4M372.6 1005.1V1011.3M332.7 1005.1V1008.4M292.8 1005.1V1011.3M252.9 1005.1V1008.4M213.1 1005.1V1011.3M173.2 1005.1V1008.4M133.3 1005.1V1011.3M93.4 1005.1V1008.4M53.5 1005.1V1011.3M13.6 1005.1V1008.4" stroke="#000" stroke-width="1.25" fill="none"/>
<g font-family="Liberation Sans, sans-serif" font-size="10.9" letter-spacing="1.1" fill="#000" stroke="#000" stroke-width="0.1"><text transform="translate(689.3 1028.6) scale(1.12 1)">0</text><text transform="translate(604.3 1028.6) scale(1.12 1)">50</text><text transform="translate(521.5 1028.6) scale(1.12 1)">100</text><text transform="translate(441.7 1028.6) scale(1.12 1)">150</text><text transform="translate(361.9 1028.6) scale(1.12 1)">200</text><text transform="translate(282.1 1028.6) scale(1.12 1)">250</text><text transform="translate(202.4 1028.6) scale(1.12 1)">300</text><text transform="translate(122.6 1028.6) scale(1.12 1)">350</text><text transform="translate(42.8 1028.6) scale(1.12 1)">400</text></g>
<text x="700.6" y="1012.6" font-family="Liberation Sans, sans-serif" font-size="15.4" fill="#111">Ma</text>
<g font-family="Liberation Sans, sans-serif" font-size="15.75" fill="#000"><text transform="translate(82.1 1034.2) rotate(-90)" text-anchor="end">Devonian</text><text transform="translate(171.4 1033.0) rotate(-90)" text-anchor="end">Carboniferous</text><text transform="translate(256.5 1034.9) rotate(-90)" text-anchor="end">Permian</text><text transform="translate(337.7 1036.0) rotate(-90)" text-anchor="end">Triassic</text><text transform="translate(420.0 1036.3) rotate(-90)" text-anchor="end">Jurassic</text><text transform="translate(527.9 1033.5) rotate(-90)" text-anchor="end">Cretaceous</text><text transform="translate(628.9 1032.4) rotate(-90)" text-anchor="end">Paleogene</text><text transform="translate(676.6 1032.4) rotate(-90)" text-anchor="end">Neogene</text><text transform="translate(700.7 1033.2) rotate(-90)" text-anchor="end">Quaternary</text></g>
</svg>
</body></html>
